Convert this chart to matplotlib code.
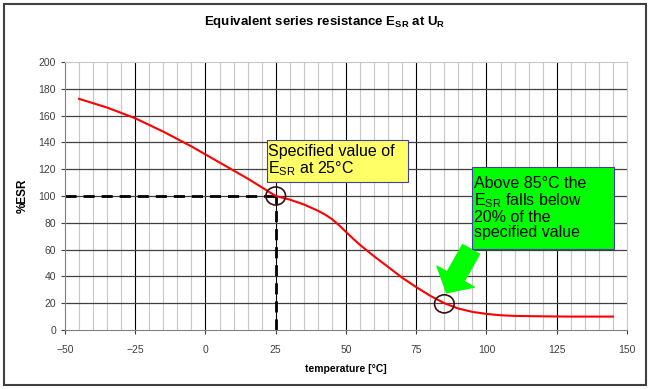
import matplotlib
matplotlib.use("Agg")
import matplotlib.pyplot as plt
from matplotlib.patches import Ellipse, Rectangle
import numpy as np

plt.rcParams['font.family'] = ['Liberation Sans', 'DejaVu Sans']
plt.rcParams['mathtext.default'] = 'regular'

temperature = [-45, -35, -25, -15, -5, 5, 15, 25, 30, 35, 40, 42.5, 45, 47.5, 50, 52.5, 55, 60, 65,
               70, 75, 80, 85, 90, 95, 100, 105, 110, 120, 130, 145]
esr_pct = [172.5, 166, 158, 148, 137, 125, 113, 100, 97.3, 93.7, 89, 86.2, 82.8, 78.2, 73.2, 68.2, 63.5, 55, 47,
           39, 32, 25.5, 20, 16, 13.5, 12, 11, 10.5, 10.2, 10, 10]

x_ticks = [-50, -25, 0, 25, 50, 75, 100, 125, 150]
y_ticks = [0, 20, 40, 60, 80, 100, 120, 140, 160, 180, 200]

fig = plt.figure(figsize=(6.5, 3.89), dpi=100)
fig.patch.set_facecolor('white')
fig.add_artist(Rectangle((0.006, 0.01), 0.988, 0.98, transform=fig.transFigure,
                         fill=False, edgecolor='#404040', linewidth=1.5))

ax = fig.add_axes([0.1, 0.1517, 0.8646, 0.6889])
ax.set_xlim(-50, 150)
ax.set_ylim(0, 200)

# grid
for xv in np.arange(-45, 150, 5):
    if xv % 25 != 0:
        ax.axvline(xv, color='#c8c8c8', lw=0.8, zorder=0)
for xv in x_ticks[1:-1]:
    ax.axvline(xv, color='#000000', lw=0.8, zorder=0.5)
for yv in y_ticks[1:-1]:
    ax.axhline(yv, color='#404040', lw=0.9, zorder=0.5)

for s in ['top', 'right']:
    ax.spines[s].set_color('#c8c8c8')
for s in ['left', 'bottom']:
    ax.spines[s].set_color('#808080')

ax.set_xticks(x_ticks)
ax.set_yticks(y_ticks)
ax.tick_params(labelsize=7.5, colors='#404040', length=3, width=0.8, direction='out')
ax.tick_params(axis='x', pad=8)

# dashed reference lines
ax.plot([-50, 25], [100, 100], color='black', lw=2, ls=(0, (4, 2.5)), zorder=2)
ax.plot([25, 25], [0, 100], color='black', lw=2, ls=(0, (4, 2.5)), zorder=2)

ax.plot(temperature, esr_pct, color='#ff0000', lw=1.5, zorder=3)

# circles
ax.add_patch(Ellipse((25, 100), 7, 13.5, fill=False, edgecolor='#3a1010', lw=1.2, zorder=4))
ax.add_patch(Ellipse((85, 19.5), 7, 13.5, fill=False, edgecolor='#3a1010', lw=1.2, zorder=4))

# green arrow
ax.annotate('', xy=(85.3, 26), xytext=(95, 62),
            arrowprops=dict(arrowstyle='simple,head_length=0.95,head_width=2.2,tail_width=1.0',
                            mutation_scale=14,
                            facecolor='#00ff00', edgecolor='#00ff00'), zorder=5)

# annotation boxes
ax.add_patch(Rectangle((21.8, 110.7), 50.4, 31.1, facecolor='#ffff66', edgecolor='#4040a0',
                       lw=0.8, zorder=6))
ax.text(22.3, 126.2, 'Specified value of\nE$_{SR}$ at 25°C', fontsize=11.5, va='center', ha='left',
        linespacing=1.0, zorder=7)
ax.add_patch(Rectangle((95, 60.2), 50.4, 61.2, facecolor='#00ff00', edgecolor='#4040a0',
                       lw=0.8, zorder=6))
ax.text(95.4, 90.8, 'Above 85°C the\nE$_{SR}$ falls below\n20% of the\nspecified value', fontsize=11.5,
        va='center', ha='left', linespacing=1.0, zorder=7)

ax.set_xlabel('temperature [°C]', fontsize=7.5, fontweight='bold', labelpad=6)
ax.set_ylabel('%ESR', fontsize=8.5, fontweight='bold', labelpad=7)

fig.text(0.5, 0.943, 'Equivalent series resistance E$_{SR}$ at U$_{R}$', ha='center', va='center',
         fontsize=9.5, fontweight='bold')

fig.savefig('out.png', dpi=100)
